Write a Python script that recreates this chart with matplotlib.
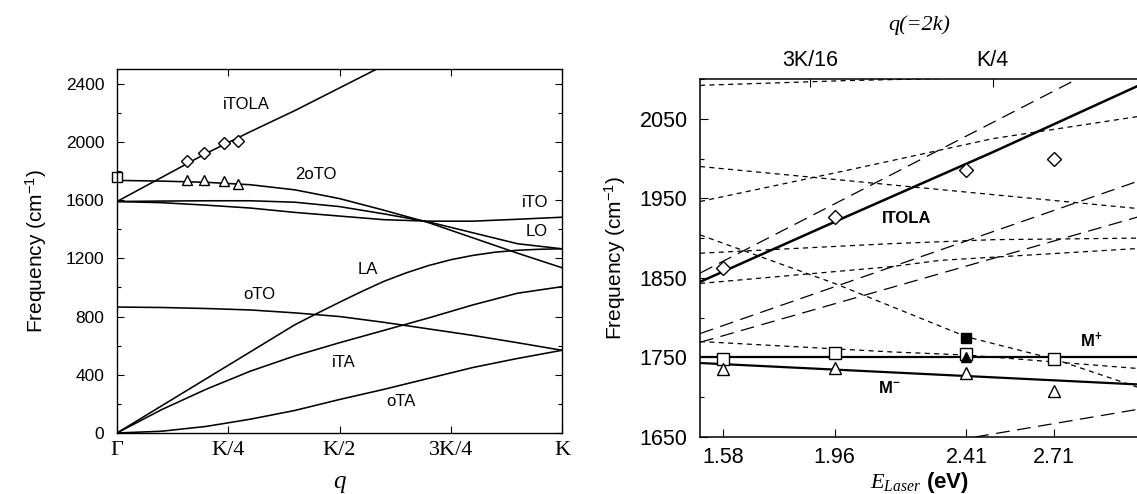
import matplotlib
matplotlib.use("Agg")
import matplotlib.pyplot as plt
from matplotlib.ticker import MultipleLocator, FixedLocator

plt.rcParams['font.family'] = ['Liberation Sans', 'DejaVu Sans']
plt.rcParams['mathtext.fontset'] = 'custom'
plt.rcParams['mathtext.rm'] = 'Liberation Sans'
plt.rcParams['mathtext.it'] = 'Liberation Serif:italic'
plt.rcParams['mathtext.bf'] = 'Liberation Sans:bold'

# ---------------- Left panel: phonon dispersion (q in units of K) ----------------
q = [0.0, 0.1, 0.2, 0.3, 0.4, 0.5, 0.6, 0.7, 0.8, 0.9, 1.0]
oTA = [0, 12, 45, 95, 155, 230, 300, 375, 450, 512, 568]
iTA = [0, 160, 300, 425, 530, 620, 705, 790, 880, 960, 1005]
oTO = [865, 862, 855, 845, 825, 800, 760, 715, 670, 620, 568]
iTO = [1590, 1582, 1565, 1545, 1515, 1490, 1465, 1455, 1455, 1468, 1482]
LO = [1590, 1593, 1595, 1595, 1585, 1555, 1505, 1450, 1375, 1300, 1265]
two_oTO = [1735, 1730, 1722, 1705, 1670, 1610, 1530, 1445, 1340, 1235, 1135]
q_LA = [0.0, 0.1, 0.2, 0.3, 0.4, 0.45, 0.5, 0.55, 0.6, 0.65, 0.7, 0.75, 0.8, 0.85, 0.9, 0.95, 1.0]
LA = [0, 186, 372, 558, 744, 822, 898, 972, 1042, 1100, 1150, 1190, 1220, 1242, 1255, 1262, 1265]
q_itola = [0.0, 0.1, 0.2, 0.3, 0.4, 0.5, 0.6]
iTOLA = [1590, 1755, 1920, 2070, 2215, 2370, 2525]

q_exp = [0.158, 0.196, 0.241, 0.271]
diam_L = [1869, 1925, 1989, 2005]
tri_L = [1739, 1739, 1732, 1710]
sq_L_q = [0.0]
sq_L = [1758]

xt_L = [0, 0.25, 0.5, 0.75, 1.0]
xt_L_lab = ['Γ', 'K/4', 'K/2', '3K/4', 'K']

# ---------------- Right panel: vs laser energy ----------------
E_lasers = [1.58, 1.96, 2.41, 2.71]
diam_R = [1863, 1926, 1985, 1999]
sq_R = [1748, 1755, 1754, 1748]
tri_R = [1735, 1737, 1730, 1708]
filled_sq_E = [2.41]
filled_sq = [1775]
filled_tri_E = [2.41]
filled_tri = [1751]

E_itola = [1.5, 2.0, 2.5, 3.0]
f_itola = [1845, 1927, 2008, 2092]
E_mp = [1.5, 3.0]
f_mp = [1750, 1750]
E_mm = [1.5, 3.0]
f_mm = [1743, 1716]

short_dashed = [
    ([1.5, 2.0, 2.5], [2092, 2098, 2102]),
    ([1.5, 3.0], [1990, 1937]),
    ([1.5, 2.0, 2.5, 3.0], [1946, 1985, 2025, 2053]),
    ([1.5, 1.96, 2.41, 2.71, 3.0], [1904, 1843, 1776, 1748, 1712]),
    ([1.5, 2.15, 2.5, 3.0], [1881, 1893, 1898, 1900]),
    ([1.5, 2.15, 2.32, 3.0], [1843, 1864, 1872, 1887]),
    ([1.5, 2.15, 2.41, 3.0], [1770, 1757, 1753, 1736]),
]
long_dashed = [
    ([1.5, 3.0], [1856, 2140]),
    ([1.5, 3.0], [1780, 1972]),
    ([1.5, 3.0], [1769, 1927]),
    ([2.44, 3.0], [1650, 1685]),
]

top_q = [3 / 16, 1 / 4]
top_q_lab = ['3K/16', 'K/4']
q_per_eV = 0.1  # q (units of K) per eV of laser energy

fig = plt.figure(figsize=(11.37, 4.94), dpi=100)

# ---------- left axes ----------
axL = fig.add_axes([0.1029, 0.1235, 0.3914, 0.7368])
lw = 1.15
for y in (oTA, iTA, oTO, iTO, LO, two_oTO):
    axL.plot(q, y, color='black', lw=lw)
axL.plot(q_LA, LA, color='black', lw=lw)
axL.plot(q_itola, iTOLA, color='black', lw=lw)
axL.plot(q_exp, diam_L, ls='none', marker='D', ms=6.5, mfc='white', mec='black', mew=1.0)
axL.plot(q_exp, tri_L, ls='none', marker='^', ms=7.5, mfc='white', mec='black', mew=1.0)
axL.plot(sq_L_q, sq_L, ls='none', marker='s', ms=7, mfc='white', mec='black', mew=1.0, clip_on=False)

axL.set_xlim(0, 1)
axL.set_ylim(0, 2500)
axL.set_xticks(xt_L)
axL.set_xticklabels(xt_L_lab, family='Liberation Serif', fontsize=16)
axL.yaxis.set_major_locator(MultipleLocator(400))
axL.yaxis.set_minor_locator(MultipleLocator(200))
axL.tick_params(axis='both', which='both', direction='in', top=True, right=True)
axL.tick_params(axis='both', which='major', length=5, width=0.8)
axL.tick_params(axis='both', which='minor', length=3, width=0.8)
axL.tick_params(axis='y', labelsize=12.5, pad=9)
axL.tick_params(axis='x', pad=6)
axL.set_ylabel('Frequency (cm$^{-1}$)', fontsize=15, labelpad=12)
axL.set_xlabel('q', family='Liberation Serif', style='italic', fontsize=18, labelpad=8)

lab_kw = dict(fontsize=12, ha='center', va='center')
axL.text(0.29, 2257, 'iTOLA', **lab_kw)
axL.text(0.447, 1775, '2oTO', **lab_kw)
axL.text(0.94, 1580, 'iTO', **lab_kw)
axL.text(0.942, 1381, 'LO', **lab_kw)
axL.text(0.563, 1122, 'LA', **lab_kw)
axL.text(0.32, 950, 'oTO', **lab_kw)
axL.text(0.509, 481, 'iTA', **lab_kw)
axL.text(0.638, 218, 'oTA', **lab_kw)
for s in axL.spines.values():
    s.set_linewidth(1.0)

# ---------- right axes ----------
axR = fig.add_axes([0.6157, 0.1154, 0.3861, 0.7247])
for ex, fy in short_dashed:
    axR.plot(ex, fy, color='black', lw=0.9, dashes=(4, 3.5))
for ex, fy in long_dashed:
    axR.plot(ex, fy, color='black', lw=0.9, dashes=(11, 6))
axR.plot(E_itola, f_itola, color='black', lw=1.8)
axR.plot(E_mp, f_mp, color='black', lw=1.6)
axR.plot(E_mm, f_mm, color='black', lw=1.6)
axR.plot(E_lasers, diam_R, ls='none', marker='D', ms=7.5, mfc='white', mec='black', mew=1.0)
axR.plot(E_lasers, sq_R, ls='none', marker='s', ms=8, mfc='white', mec='black', mew=1.0)
axR.plot(E_lasers, tri_R, ls='none', marker='^', ms=8.5, mfc='white', mec='black', mew=1.0)
axR.plot(filled_sq_E, filled_sq, ls='none', marker='s', ms=7.5, mfc='black', mec='black')
axR.plot(filled_tri_E, filled_tri, ls='none', marker='^', ms=6.5, mfc='black', mec='black')

axR.set_xlim(1.5, 3.0)
axR.set_ylim(1650, 2100)
axR.set_xticks(E_lasers)
axR.set_xticklabels([f'{e:.2f}' for e in E_lasers])
axR.yaxis.set_major_locator(FixedLocator([1650, 1750, 1850, 1950, 2050]))
axR.yaxis.set_minor_locator(FixedLocator([1700, 1800, 1900, 2000, 2100]))
axR.tick_params(axis='both', which='both', direction='in', labelsize=15.5)
axR.tick_params(axis='both', which='major', length=6, width=0.8)
axR.tick_params(axis='both', which='minor', length=3, width=0.8)
axR.tick_params(axis='x', pad=7)
axR.tick_params(axis='y', pad=9)
axR.spines['right'].set_visible(False)
for s in axR.spines.values():
    s.set_linewidth(1.1)
axR.set_ylabel('Frequency (cm$^{-1}$)', fontsize=15, labelpad=8)
axR.set_xlabel(r'$E_{Laser}$ $\mathbf{(eV)}$', fontsize=16, labelpad=2)

axT = axR.twiny()
axT.set_xlim(axR.get_xlim())
axT.set_xticks([qq / q_per_eV for qq in top_q])
axT.set_xticklabels(top_q_lab)
axT.tick_params(axis='x', direction='in', length=6, width=0.8, labelsize=15.5, pad=6)
for s in axT.spines.values():
    s.set_visible(False)
axT.set_xlabel('q(=2k)', family='Liberation Serif', style='italic', fontsize=16, labelpad=14)

bold_kw = dict(fontsize=12, fontweight='bold', ha='center', va='center')
axR.text(2.206, 1925, 'ITOLA', **bold_kw)
axR.text(2.836, 1772, r'$\mathbf{M^{+}}$', fontsize=12, ha='center', va='center')
axR.text(2.146, 1711, r'$\mathbf{M^{-}}$', fontsize=12, ha='center', va='center')

fig.savefig('out.png', dpi=100)
